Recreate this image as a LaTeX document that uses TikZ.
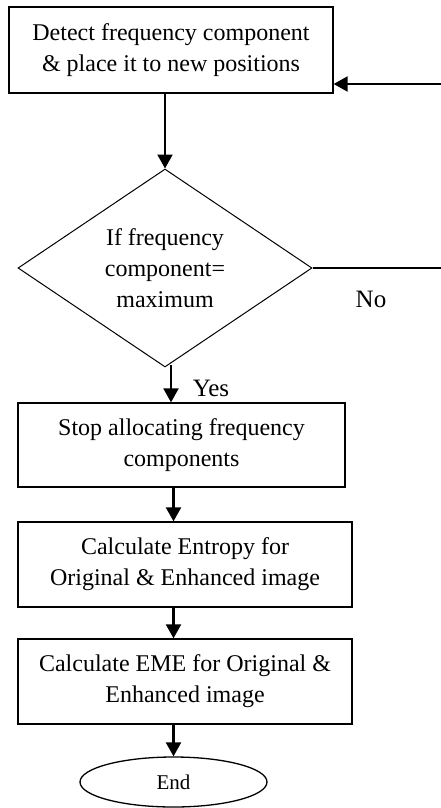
\documentclass[tikz,border=0pt]{standalone}
\usepackage{fontspec}
\setmainfont{Liberation Serif}
\usetikzlibrary{shapes.geometric,arrows.meta}
\begin{document}
\begin{tikzpicture}[x=1pt,y=-1pt,
  every node/.style={font=\fontsize{24}{31}\selectfont, align=center, inner sep=0pt},
  procbox/.style={draw, line width=1.3pt, rectangle},
  decide/.style={draw, line width=1pt, diamond, aspect=1.48},
  term/.style={draw, line width=1.3pt, ellipse, font=\fontsize{21}{24}\selectfont},
  arr/.style={line width=2.2pt, -{Triangle[length=14pt,width=15pt]}},
  plain/.style={line width=1.2pt},
  lbl/.style={font=\fontsize{25}{28}\selectfont}]
\useasboundingbox (0,0) rectangle (441,808);
\node[procbox, minimum width=324pt, minimum height=86pt] (b1) at (171,50)
  {Detect frequency component\\\& place it to new positions};
\node[decide, minimum width=294pt, minimum height=198pt] (d) at (165,268)
  {If frequency\\component=\\maximum};
\node[procbox, minimum width=327pt, minimum height=84pt] (b2) at (181.5,445)
  {Stop allocating frequency\\components};
\node[procbox, minimum width=334pt, minimum height=85pt] (b3) at (185,564.5)
  {Calculate Entropy for\\Original \& Enhanced image};
\node[procbox, minimum width=334pt, minimum height=85pt] (b4) at (185,681.5)
  {Calculate EME for Original \&\\Enhanced image};
\node[term, minimum width=187pt, minimum height=50pt] (e) at (173.5,782) {End};
\node[lbl] (no) at (371,299) {No};
\node[lbl] (yes) at (211,388) {Yes};
\coordinate (r1) at (441,268);
\coordinate (r2) at (441,84);
\coordinate (ys) at (171,365);
\draw[arr] (b1.south -| d.north) -- (d.north);
\draw[arr] (ys) -- (ys |- b2.north);
\draw[arr] (b2.south -| e.north) -- (b3.north -| e.north);
\draw[arr] (b3.south -| e.north) -- (b4.north -| e.north);
\draw[arr] (b4.south -| e.north) -- (e.north);
\draw[plain] (d.east) -- (r1);
\draw[arr] (r2) -- (r2 -| b1.east);
\end{tikzpicture}
\end{document}
